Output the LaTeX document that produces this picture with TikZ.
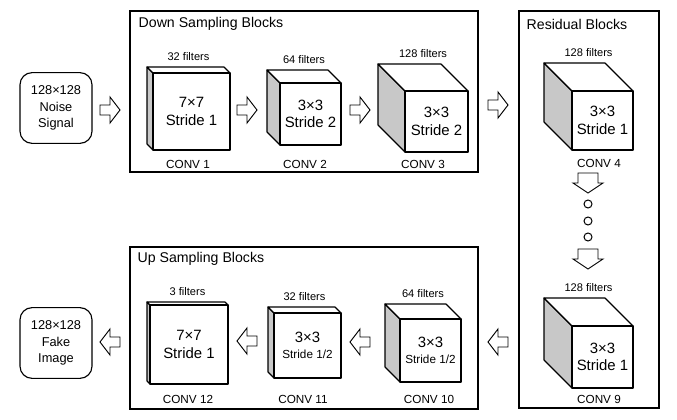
\documentclass[tikz,border=0pt]{standalone}
\usepackage{fontspec}
\setmainfont{Liberation Sans}
\usetikzlibrary{positioning}
\definecolor{cubeGrey}{RGB}{200,200,200}

\tikzset{
  blockbox/.style={draw, line width=1.1pt},
  cubeline/.style={draw, line width=0.85pt, line join=round},
  titletext/.style={anchor=west, font=\fontsize{10.6}{12}\selectfont},
  filterlabel/.style={font=\fontsize{8.3}{10}\selectfont},
  convlabel/.style={font=\fontsize{8.8}{10}\selectfont},
  cubetext/.style={align=center, font=\fontsize{11.2}{13}\selectfont},
  iobox/.style={draw, line width=0.85pt, rounded corners=9pt, align=center,
    minimum width=54pt, minimum height=53pt, font=\fontsize{9.6}{12.5}\selectfont},
  pics/hollowarrow/.style={code={
    \draw[line width=0.7pt, fill=white, line join=miter]
      (-10,-5) -- (0,-5) -- (0,-13) -- (10,0) -- (0,13) -- (0,5) -- (-10,5) -- cycle;}},
  pics/widearrow/.style={code={
    \draw[line width=0.7pt, fill=white, line join=miter]
      (-10,-10) -- (0,-10) -- (0,-15) -- (10,0) -- (0,15) -- (0,10) -- (-10,10) -- cycle;}},
}

% name, x, y (front top left), width, height, depth, filters, text
\newcommand{\convcube}[8]{%
  \filldraw[cubeline, fill=cubeGrey] (#2,#3) -- ++(-#6,-#6) -- ++(0,#5) -- ({#2},{#3+#5}) -- cycle;
  \filldraw[cubeline, fill=white] (#2,#3) -- ++(-#6,-#6) -- ++(#4,0) -- ({#2+#4},{#3}) -- cycle;
  \filldraw[cubeline, fill=white] (#2,#3) rectangle ++(#4,#5);
  \node[cubetext] (#1) at ({#2+#4/2},{#3+#5/2}) {#8};
  \node[filterlabel] (#1-f) at ({#2+(#4-#6)/2},{#3-#6-10}) {#7};
}
\newcommand{\halfstride}[1]{3×3\\[-1pt]{\fontsize{8.8}{11}\selectfont Stride #1}}

\begin{document}
\begin{tikzpicture}[x=0.75pt, y=-0.75pt]
  \useasboundingbox (0,0) rectangle (677,420);

  % frames
  \draw[blockbox] (130,11) rectangle (478,172);
  \draw[blockbox] (519,11) rectangle (659,408);
  \draw[blockbox] (130,247) rectangle (478,409);
  \node[titletext] (downtitle) at (134,24) {Down Sampling Blocks};
  \node[titletext] (restitle) at (522,24) {Residual Blocks};
  \node[titletext] (uptitle) at (133,259) {Up Sampling Blocks};

  % input and output
  \node[iobox] (noise) at (56,108) {128×128\\Noise\\Signal};
  \node[iobox] (fake) at (56,343) {128×128\\Fake\\Image};

  % down sampling
  \convcube{conv1}{153}{73}{77}{77}{6}{32 filters}{7×7\\Stride 1}
  \convcube{conv2}{280}{83}{61}{62}{13}{64 filters}{3×3\\Stride 2}
  \convcube{conv3}{405}{91}{63}{61}{27}{128 filters}{3×3\\Stride 2}
  \node[convlabel] (lab1) at (188,164) {CONV 1};
  \node[convlabel] (lab2) at (305,164) {CONV 2};
  \node[convlabel] (lab3) at (423,164) {CONV 3};

  % residual
  \convcube{conv4}{572}{91}{61}{59}{28}{128 filters}{3×3\\Stride 1}
  \convcube{conv9}{572}{326}{61}{62}{28}{128 filters}{3×3\\Stride 1}
  \node[convlabel] (lab4) at (599,163) {CONV 4};
  \node[convlabel] (lab9) at (599,399) {CONV 9};
  \foreach \cy in {204,221,237}
    \draw[line width=0.75pt] (588,\cy) circle (4);

  % up sampling
  \convcube{conv10}{400}{319}{61}{63}{15}{64 filters}{\halfstride{1/2}}
  \convcube{conv11}{274}{313}{67}{65}{6}{32 filters}{\halfstride{1/2}}
  \convcube{conv12}{150}{305}{78}{79}{3}{3 filters}{7×7\\Stride 1}
  \node[convlabel] (lab10) at (429,399) {CONV 10};
  \node[convlabel] (lab11) at (303,399) {CONV 11};
  \node[convlabel] (lab12) at (188,399) {CONV 12};

  % flow arrows
  \pic at (110,110) {hollowarrow};
  \pic at (247,110) {hollowarrow};
  \pic at (360,110) {hollowarrow};
  \pic at (498,105) {hollowarrow};
  \pic[rotate=-90] at (588,183) {widearrow};
  \pic[rotate=-90] at (588,259) {widearrow};
  \pic[rotate=180] at (498,342) {hollowarrow};
  \pic[rotate=180] at (360,342) {hollowarrow};
  \pic[rotate=180] at (247,341) {hollowarrow};
  \pic[rotate=180] at (110,342) {hollowarrow};
\end{tikzpicture}
\end{document}
